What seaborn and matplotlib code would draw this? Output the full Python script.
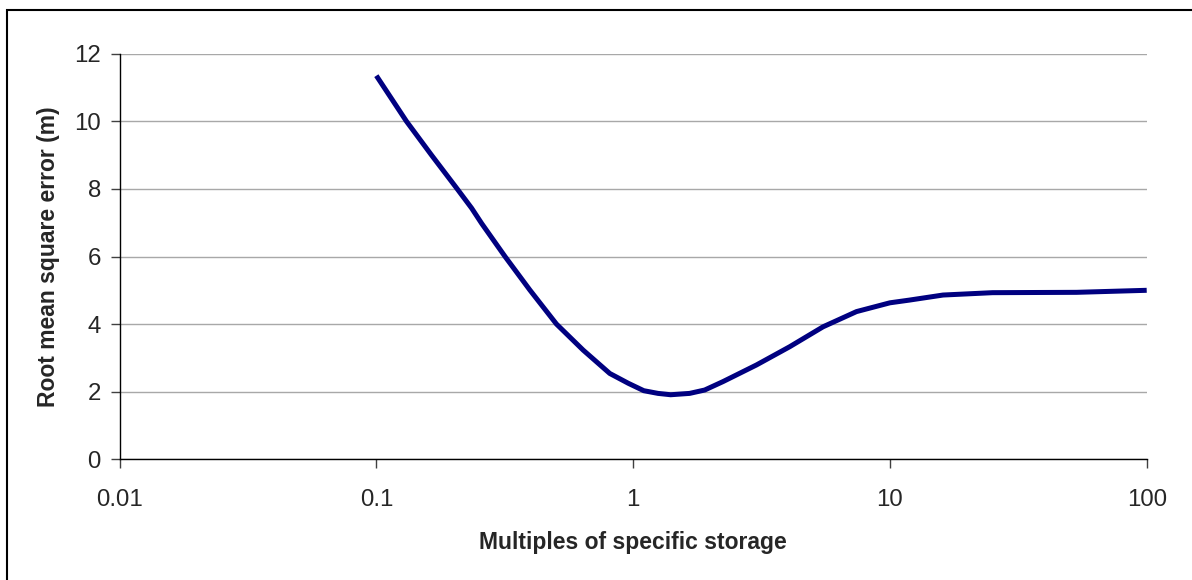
import numpy as np
import pandas as pd
import matplotlib
matplotlib.use("Agg")
import matplotlib.pyplot as plt
from matplotlib.patches import Rectangle
import seaborn as sns

# values
multiples = [0.1, 0.131, 0.164, 0.2065, 0.235, 0.257, 0.317, 0.396, 0.503,
             0.639, 0.811, 0.957, 1.1, 1.25, 1.4, 1.66, 1.9, 2.24, 3.02,
             4.07, 5.49, 7.41, 10.0, 11.9, 16.1, 25.1, 53.3, 100.0]
rmse = [11.35, 10.0, 9.0, 8.0, 7.43, 6.98, 6.0, 5.01, 4.0,
        3.23, 2.54, 2.25, 2.03, 1.95, 1.91, 1.95, 2.05, 2.30, 2.79,
        3.33, 3.92, 4.37, 4.63, 4.71, 4.86, 4.93, 4.94, 5.0]

x_ticks = [0.01, 0.1, 1, 10, 100]
x_tick_labels = ["0.01", "0.1", "1", "10", "100"]
y_ticks = [0, 2, 4, 6, 8, 10, 12]

df = pd.DataFrame({"multiple": multiples, "rmse": rmse})

sns.set_style("white")
plt.rcParams["font.family"] = ["Liberation Sans", "DejaVu Sans"]

fig = plt.figure(figsize=(11.92, 5.8), dpi=100)
ax = fig.add_axes([0.1003, 0.2081, 0.8617, 0.6993])

sns.lineplot(data=df, x="multiple", y="rmse", ax=ax, color="#000080",
             linewidth=3.6, sort=True, estimator=None,
             solid_joinstyle="round", solid_capstyle="butt")

ax.set_xscale("log")
ax.set_xlim(0.01, 100)
ax.set_ylim(0, 12)
ax.set_xticks(x_ticks)
ax.set_xticklabels(x_tick_labels)
ax.minorticks_off()
ax.set_yticks(y_ticks)

ax.yaxis.grid(True, color="#a8a8a8", linewidth=1.0)
ax.xaxis.grid(False)
ax.set_axisbelow(True)

for side in ["top", "right"]:
    ax.spines[side].set_visible(False)
for side in ["left", "bottom"]:
    ax.spines[side].set_color("black")
    ax.spines[side].set_linewidth(1.0)

ax.tick_params(axis="y", direction="out", length=6.5, width=1, color="#404040",
               pad=7, labelsize=17.3, left=True)
ax.tick_params(axis="x", direction="out", length=6.5, width=1, color="#404040",
               pad=15, labelsize=17.3, bottom=True)

ax.set_xlabel("Multiples of specific storage", fontsize=16.5, fontweight="bold",
              labelpad=14)
ax.set_ylabel("Root mean square error (m)", fontsize=16.5, fontweight="bold",
              labelpad=10)

# outer chart border (left and top edges visible in the reference)
fig.patches.append(Rectangle((7 / 1192, -0.5), 2, 1.5 - 10 / 580,
                             transform=fig.transFigure, fill=False,
                             edgecolor="black", linewidth=1.5))

fig.savefig("out.png", dpi=100)
